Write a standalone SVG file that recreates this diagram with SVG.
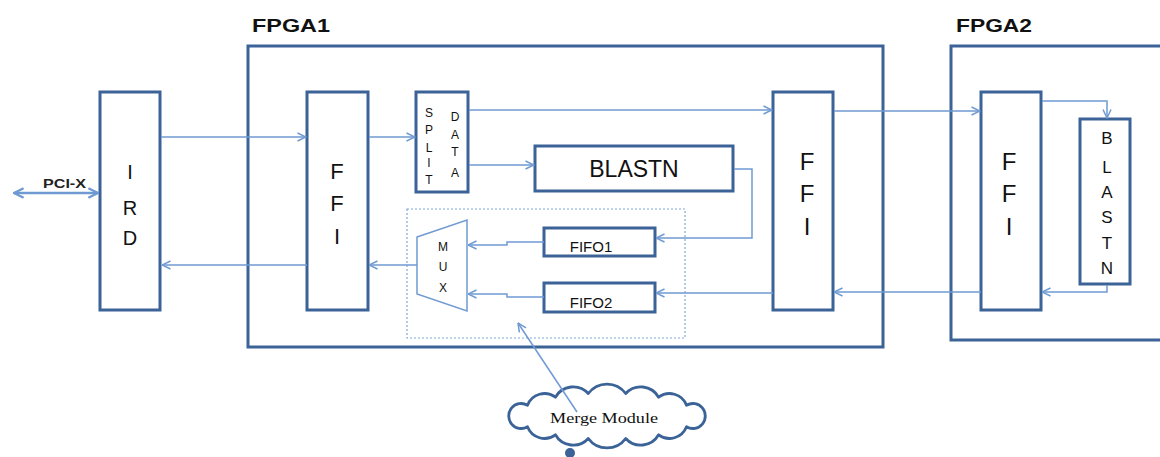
<svg xmlns="http://www.w3.org/2000/svg" width="1160" height="457" viewBox="0 0 1160 457">
  <style>
    .box { fill: #ffffff; stroke: #3b6397; stroke-width: 3; }
    .frame { fill: none; stroke: #3b6397; stroke-width: 3; }
    .wire { fill: none; stroke: #6f9ad2; stroke-width: 1.5; }
    .lbl { font-family: "Liberation Sans", Arial, sans-serif; fill: #111111; text-anchor: middle; }
    .title { font-family: "Liberation Sans", Arial, sans-serif; font-weight: bold; font-size: 18px; fill: #111111; }
  </style>
  <defs>
    <marker id="arr" viewBox="0 0 10 10" refX="9.5" refY="5" markerWidth="10" markerHeight="10" markerUnits="userSpaceOnUse" orient="auto">
      <path d="M1,1 L9.5,5 L1,9" fill="none" stroke="#6f9ad2" stroke-width="1.5"/>
    </marker>
    <marker id="arrBig" viewBox="0 0 10 10" refX="9" refY="5" markerWidth="12" markerHeight="12" markerUnits="userSpaceOnUse" orient="auto-start-reverse">
      <path d="M1,1 L9,5 L1,9" fill="none" stroke="#6f9ad2" stroke-width="2"/>
    </marker>
  </defs>

  <rect width="1160" height="457" fill="#ffffff"/>

  <!-- FPGA enclosures -->
  <g id="fpga1">
    <rect class="frame" x="248" y="46" width="635" height="301"/>
    <text class="title" x="252" y="32" textLength="78" lengthAdjust="spacingAndGlyphs">FPGA1</text>
  </g>
  <g id="fpga2">
    <rect class="frame" x="951" y="46" width="220" height="294"/>
    <text class="title" x="956" y="32" textLength="76" lengthAdjust="spacingAndGlyphs">FPGA2</text>
  </g>

  <!-- Merge module grouping -->
  <g id="merge-region">
    <rect x="407" y="209" width="278" height="129" fill="none" stroke="#7fa7da" stroke-width="1.2" stroke-dasharray="2,2"/>
  </g>

  <g id="ird">
    <rect class="box" x="100" y="92" width="60" height="218"/>
    <text class="lbl" font-size="20" x="130" y="179">I</text>
    <text class="lbl" font-size="20" x="130" y="215">R</text>
    <text class="lbl" font-size="20" x="130" y="245">D</text>
  </g>

  <g id="ffi1">
    <rect class="box" x="307" y="92" width="61" height="218"/>
    <text class="lbl" font-size="22" x="337" y="179">F</text>
    <text class="lbl" font-size="22" x="337" y="211">F</text>
    <text class="lbl" font-size="22" x="337" y="244">I</text>
  </g>

  <g id="split-data">
    <rect class="box" x="416" y="92" width="52" height="100"/>
    <g class="lbl" font-size="12">
      <text x="429" y="117">S</text>
      <text x="429" y="134">P</text>
      <text x="429" y="152">L</text>
      <text x="429" y="167">I</text>
      <text x="429" y="184">T</text>
      <text x="455" y="121">D</text>
      <text x="455" y="139">A</text>
      <text x="455" y="156">T</text>
      <text x="455" y="177">A</text>
    </g>
  </g>

  <g id="blastn1">
    <rect class="box" x="535" y="146" width="198" height="45"/>
    <text class="lbl" font-size="23" x="634" y="177">BLASTN</text>
  </g>

  <g id="mux">
    <path d="M417,237 L467,220 L467,311 L417,294 Z" fill="#ffffff" stroke="#6f9ad2" stroke-width="1.5"/>
    <text class="lbl" font-size="12" x="443" y="251">M</text>
    <text class="lbl" font-size="12" x="443" y="271">U</text>
    <text class="lbl" font-size="12" x="443" y="292">X</text>
  </g>

  <g id="fifo1">
    <rect class="box" x="544" y="228" width="111" height="28"/>
    <text class="lbl" font-size="15" x="591" y="252">FIFO1</text>
  </g>
  <g id="fifo2">
    <rect class="box" x="544" y="283" width="111" height="29"/>
    <text class="lbl" font-size="15" x="591" y="308">FIFO2</text>
  </g>

  <g id="ffi2">
    <rect class="box" x="773" y="92" width="60" height="218"/>
    <text class="lbl" font-size="24" x="807" y="170">F</text>
    <text class="lbl" font-size="24" x="807" y="202">F</text>
    <text class="lbl" font-size="24" x="807" y="235">I</text>
  </g>

  <g id="ffi3">
    <rect class="box" x="981" y="92" width="60" height="218"/>
    <text class="lbl" font-size="24" x="1009" y="170">F</text>
    <text class="lbl" font-size="24" x="1009" y="202">F</text>
    <text class="lbl" font-size="24" x="1009" y="235">I</text>
  </g>

  <g id="blastn2">
    <rect class="box" x="1080" y="119" width="50" height="165"/>
    <g class="lbl" font-size="17">
      <text x="1107" y="144">B</text>
      <text x="1107" y="173">L</text>
      <text x="1107" y="198">A</text>
      <text x="1107" y="223">S</text>
      <text x="1107" y="249">T</text>
      <text x="1107" y="274">N</text>
    </g>
  </g>

  <!-- callout cloud -->
  <g id="merge-module">
    <path d="M686.5,426.8 A18.2,18.2 0 0,1 658.6,434.8 A20.5,20.5 0 0,1 625.7,438.5 A23.2,23.2 0 0,1 588.3,438.5 A20.5,20.5 0 0,1 555.4,434.8 A18.2,18.2 0 0,1 527.5,426.8 A12.5,12.5 0 1,1 527.5,405.2 A18.2,18.2 0 0,1 555.4,397.2 A20.5,20.5 0 0,1 588.3,393.5 A23.2,23.2 0 0,1 625.7,393.5 A20.5,20.5 0 0,1 658.6,397.2 A18.2,18.2 0 0,1 686.5,405.2 A12.5,12.5 0 1,1 686.5,426.8 Z" fill="#ffffff" stroke="#3b6397" stroke-width="2.8" stroke-linejoin="round"/>
    <circle cx="570" cy="453" r="5" fill="#3b6397"/>
    <text x="550" y="423" font-family="'Liberation Serif', 'Times New Roman', serif" font-size="15" fill="#111111" textLength="108" lengthAdjust="spacingAndGlyphs">Merge Module</text>
  </g>

  <!-- connectors -->
  <g id="connectors">
    <line x1="14" y1="193" x2="98" y2="193" fill="none" stroke="#6f9ad2" stroke-width="2.5" marker-start="url(#arrBig)" marker-end="url(#arrBig)"/>
    <text x="43" y="188" font-family="'Liberation Sans', Arial, sans-serif" font-weight="bold" font-size="12" fill="#222222" textLength="43" lengthAdjust="spacingAndGlyphs">PCI-X</text>

    <path class="wire" d="M161,137 L306,137" marker-end="url(#arr)"/>
    <path class="wire" d="M307,265 L162,265" marker-end="url(#arr)"/>
    <path class="wire" d="M369,137 L415,137" marker-end="url(#arr)"/>
    <path class="wire" d="M469,110 L772,110" marker-end="url(#arr)"/>
    <path class="wire" d="M469,165 L534,165" marker-end="url(#arr)"/>
    <path class="wire" d="M734,169 L752,169 L752,238 L656,238" marker-end="url(#arr)"/>
    <path class="wire" d="M773,293 L656,293" marker-end="url(#arr)"/>
    <path class="wire" d="M544,242 L507,242 L507,245 L468,245" marker-end="url(#arr)"/>
    <path class="wire" d="M544,297 L507,297 L507,294 L468,294" marker-end="url(#arr)"/>
    <path class="wire" d="M417,265 L369,265" marker-end="url(#arr)"/>
    <path class="wire" d="M834,111 L980,111" marker-end="url(#arr)"/>
    <path class="wire" d="M981,292 L834,292" marker-end="url(#arr)"/>
    <path class="wire" d="M1042,101 L1107,101 L1107,118" marker-end="url(#arr)"/>
    <path class="wire" d="M1107,285 L1107,292 L1042,292" marker-end="url(#arr)"/>
    <path class="wire" d="M577,412 L518,323" marker-end="url(#arr)"/>
  </g>
</svg>
